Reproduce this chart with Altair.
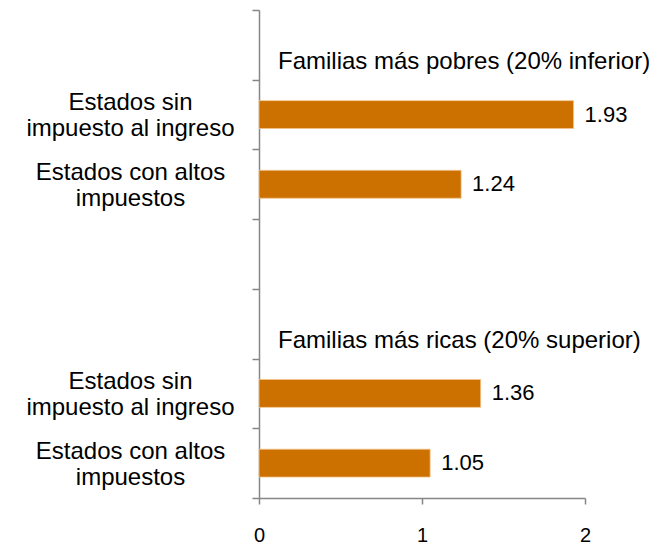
import json
import altair as alt
import pandas as pd

# ---- data ----
row_keys = ["r0", "r1", "r2", "r3", "r4", "r5", "r6"]
row_labels = [
    [""],
    ["Estados sin", "impuesto al ingreso"],
    ["Estados con altos", "impuestos"],
    [""],
    [""],
    ["Estados sin", "impuesto al ingreso"],
    ["Estados con altos", "impuestos"],
]
bar_rows = ["r1", "r2", "r5", "r6"]
bar_values = [1.93, 1.24, 1.36, 1.05]
group_rows = ["r0", "r4"]
group_titles = ["Familias más pobres (20% inferior)", "Familias más ricas (20% superior)"]
x_ticks = [0, 1, 2]

FONT = "Liberation Sans"
AXIS_GRAY = "#868686"
BAR_COLOR = "#CC7000"

bars_df = pd.DataFrame({"row": bar_rows, "value": bar_values})
titles_df = pd.DataFrame({"row": group_rows, "title": group_titles, "x0": [0] * len(group_rows)})

# label expression mapping row keys to (multi-line) labels
expr = "''"
for k, lab in reversed(list(zip(row_keys, row_labels))):
    expr = f"datum.value == '{k}' ? {json.dumps(lab, ensure_ascii=False)} : ({expr})"

y_enc = alt.Y(
    "row:N",
    sort=None,
    scale=alt.Scale(domain=row_keys, paddingInner=0, paddingOuter=0),
    axis=alt.Axis(
        title=None,
        labelExpr=expr,
        tickBand="extent",
        tickSize=7,
        labelAlign="center",
        labelBaseline="middle",
        labelPadding=122,
        labelOffset=-12,
        labelFontSize=24,
        labelLineHeight=26,
        labelFont=FONT,
        labelColor="black",
        labelLimit=400,
        labelOverlap=False,
        domainColor=AXIS_GRAY,
        tickColor=AXIS_GRAY,
        domainWidth=1.5,
        tickWidth=1.5,
    ),
)

x_scale = alt.Scale(domain=[0, 2], nice=False, zero=True)

bars = alt.Chart(bars_df).mark_bar(
    height=alt.RelativeBandSize(0.4), color=BAR_COLOR, stroke="#F2C48C", strokeWidth=0.8
).encode(
    x=alt.X(
        "value:Q",
        scale=x_scale,
        axis=alt.Axis(
            values=x_ticks,
            labelExpr="format(datum.value, '.0f')",
            title=None,
            grid=False,
            tickSize=6,
            labelFontSize=20,
            labelFont=FONT,
            labelColor="black",
            labelPadding=21,
            labelOverlap=False,
            domainColor=AXIS_GRAY,
            tickColor=AXIS_GRAY,
            domainWidth=1.5,
            tickWidth=1.5,
            labelFlush=False,
        ),
    ),
    y=y_enc,
)

value_labels = alt.Chart(bars_df).mark_text(
    align="left", baseline="middle", dx=11, fontSize=22, font=FONT, color="black"
).encode(
    x=alt.X("value:Q", scale=x_scale),
    y=alt.Y("row:N", sort=None),
    text=alt.Text("value:Q", format=".2f"),
)

titles = alt.Chart(titles_df).mark_text(
    align="left", baseline="middle", dx=19, dy=17, fontSize=24, font=FONT, color="black"
).encode(
    x=alt.X("x0:Q", scale=x_scale),
    y=alt.Y("row:N", sort=None),
    text="title:N",
)

chart = (
    alt.layer(bars, value_labels, titles)
    .properties(
        width=326,
        height=488,
        autosize=alt.AutoSizeParams(type="none"),
        padding={"left": 251, "top": 2, "right": 70, "bottom": 46},
        background="white",
    )
    .configure_view(stroke=None)
)

chart.save("out.html", embed_options={"renderer": "svg", "actions": False})
